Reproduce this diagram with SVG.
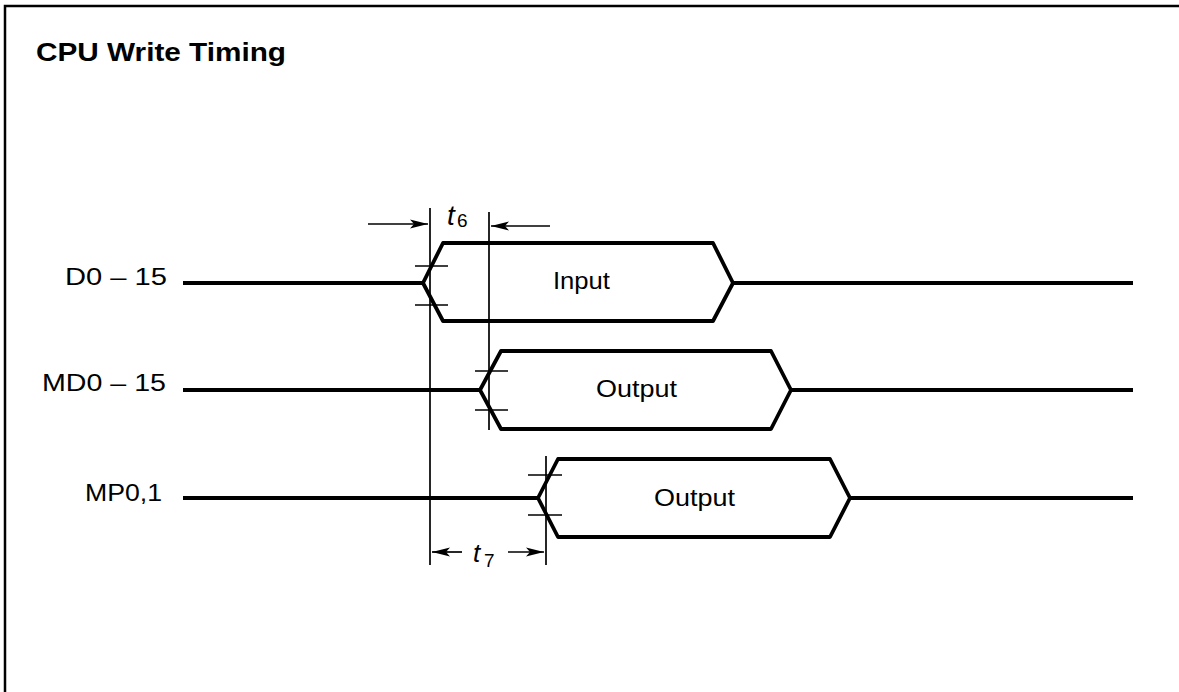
<svg xmlns="http://www.w3.org/2000/svg" width="1179" height="692" viewBox="0 0 1179 692">
<style>
  .frame { fill: none; stroke: #000; stroke-width: 2.5; }
  .sig { fill: none; stroke: #000; stroke-width: 3.8; stroke-linejoin: round; }
  .tick { fill: none; stroke: #000; stroke-width: 1.5; }
  .ref { fill: none; stroke: #000; stroke-width: 1.7; }
  .arr { fill: none; stroke: #000; stroke-width: 1.7; }
  .lbl { font-family: "Liberation Sans", Arial, Helvetica, sans-serif; font-size: 24px; fill: #000; }
  .title { font-family: "Liberation Sans", Arial, Helvetica, sans-serif; font-size: 26px; font-weight: bold; fill: #000; }
  .tv { font-family: "Liberation Sans", Arial, Helvetica, sans-serif; font-style: italic; fill: #000; }
  .sub { font-family: "Liberation Sans", Arial, Helvetica, sans-serif; font-style: normal; font-size: 19px; fill: #000; }
</style>
<defs>
  <marker id="ah" markerUnits="userSpaceOnUse" markerWidth="20" markerHeight="12" refX="18" refY="6" orient="auto">
    <path d="M0,1.5 L18,6 L0,10.5 L4,6 Z" fill="#000"/>
  </marker>
</defs>
<rect width="1179" height="692" fill="#fff"/>
<g id="frame">
  <path class="frame" d="M5,692 L5,6 L1179,6"/>
  <text class="title" x="36" y="61" textLength="250" lengthAdjust="spacingAndGlyphs">CPU Write Timing</text>
</g>
<g id="sig-d0">
  <text class="lbl" x="65" y="285" textLength="102" lengthAdjust="spacingAndGlyphs">D0 – 15</text>
  <path class="sig" d="M183,283 L423,283 M423,283 L443,243 L713,243 L733,283 L713,321 L443,321 Z M733,283 L1133,283"/>
  <path class="tick" d="M415,266 L448,266 M415,305 L448,305"/>
  <text class="lbl" x="553" y="289" textLength="57" lengthAdjust="spacingAndGlyphs">Input</text>
</g>
<g id="sig-md0">
  <text class="lbl" x="42" y="391" textLength="124" lengthAdjust="spacingAndGlyphs">MD0 – 15</text>
  <path class="sig" d="M183,390 L480,390 M480,390 L501,351 L771,351 L791,390 L771,429 L501,429 Z M791,390 L1133,390"/>
  <path class="tick" d="M475,371 L508,371 M475,410 L508,410"/>
  <text class="lbl" x="596" y="397" textLength="81" lengthAdjust="spacingAndGlyphs">Output</text>
</g>
<g id="sig-mp0">
  <text class="lbl" x="85" y="501" textLength="77" lengthAdjust="spacingAndGlyphs">MP0,1</text>
  <path class="sig" d="M183,498 L538,498 M538,498 L558,459 L830,459 L850,498 L830,537 L558,537 Z M850,498 L1133,498"/>
  <path class="tick" d="M528,475 L562,475 M528,515 L562,515"/>
  <text class="lbl" x="654" y="506" textLength="81" lengthAdjust="spacingAndGlyphs">Output</text>
</g>
<g id="connectors">
  <path class="ref" d="M430,208 L430,565"/>
  <path class="ref" d="M489,212 L489,430"/>
  <path class="ref" d="M546,456 L546,565"/>
  <line class="arr" x1="368" y1="224" x2="428" y2="224" marker-end="url(#ah)"/>
  <line class="arr" x1="550" y1="226" x2="491" y2="226" marker-end="url(#ah)"/>
  <line class="arr" x1="462" y1="552" x2="432" y2="552" marker-end="url(#ah)"/>
  <line class="arr" x1="508" y1="552" x2="544" y2="552" marker-end="url(#ah)"/>
  <text class="tv" x="447" y="225" font-size="28">t</text>
  <text class="sub" x="457" y="227">6</text>
  <text class="tv" x="473" y="562" font-size="26">t</text>
  <text class="sub" x="484" y="567">7</text>
</g>
</svg>
